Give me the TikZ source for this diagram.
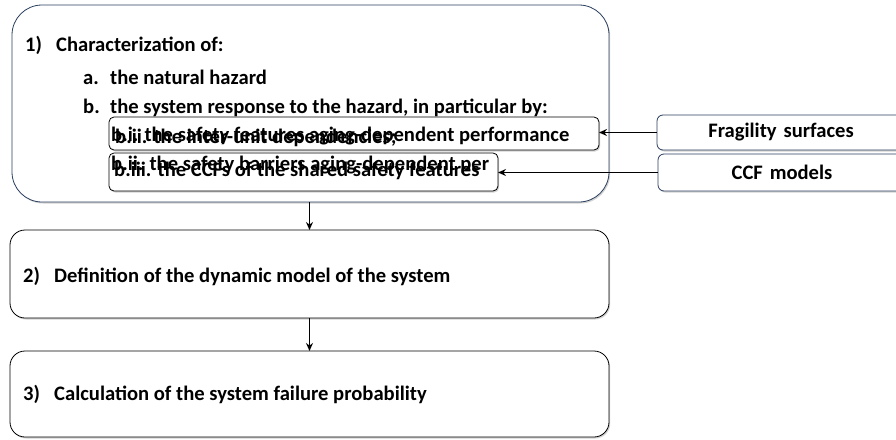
\documentclass[tikz,border=0pt]{standalone}
\usepackage{fontspec}
\setmainfont{Carlito}
\usetikzlibrary{shadows,arrows.meta}
\definecolor{navy}{HTML}{2B3F5F}
\tikzset{
  box/.style={draw=black, line width=0.8pt, fill=white, inner sep=0pt, outer sep=0pt,
    drop shadow={shadow xshift=1.2pt, shadow yshift=-1.5pt, fill=black!35}},
  bigbox/.style={box, draw=navy, rounded corners=30pt},
  stepbox/.style={box, rounded corners=15pt},
  subbox/.style={box, rounded corners=5pt},
  srcbox/.style={box, draw=navy, rounded corners=6pt, font=\bfseries\fontsize{20.6}{24}\selectfont},
  txt/.style={anchor=base west, inner sep=0pt, font=\bfseries\fontsize{20.6}{24}\selectfont},
  arr/.style={-{Stealth[length=8pt,width=7pt]}, line width=1.8pt, black},
}
\begin{document}
\begin{tikzpicture}[x=1pt,y=-1pt]
\useasboundingbox (0,0) rectangle (896,439);
% boxes
\node[bigbox, minimum width=597pt, minimum height=197pt] (b1) at (310.5,103.5) {};
\node[stepbox, minimum width=599pt, minimum height=88pt] (b2) at (309.5,274) {};
\node[stepbox, minimum width=599pt, minimum height=86pt] (b3) at (309.5,394) {};
\node[subbox, minimum width=490pt, minimum height=33pt] (bi) at (354,133.5) {};
\node[subbox, minimum width=389pt, minimum height=38pt] (bii) at (303.5,172) {};
\node[srcbox, minimum width=248pt, minimum height=35pt, text width=240pt, align=center] (frag) at (781,132.5) {Fragility surfaces};
\node[srcbox, minimum width=248pt, minimum height=37pt, text width=240pt, align=center] (ccf) at (782,172.5) {CCF models};
% texts in box 1
\node[txt] (t1n) at (25,51) {1)};
\node[txt] (t1) at (56,51) {Characterization of:};
\node[txt] (tan) at (83,84) {a.};
\node[txt] (ta) at (110,84) {the natural hazard};
\node[txt] (tbn) at (83,113) {b.};
\node[txt] (tb) at (110,113) {the system response to the hazard, in particular by:};
\node[txt] (tbi) at (111,141) {b.i. the safety features aging-dependent performance};
\node[txt] (tbi2) at (115,143) {b.ii. the inter-unit dependencies;};
\node[txt] (tbii) at (111,170) {b.ii. the safety barriers aging-dependent per};
\node[txt] (tbii2) at (114,176) {b.iii. the CCFs of the shared safety features};
% texts in boxes 2 and 3
\node[txt] (t2n) at (23,282) {2)};
\node[txt] (t2) at (54,282) {Definition of the dynamic model of the system};
\node[txt] (t3n) at (23,400) {3)};
\node[txt] (t3) at (54,400) {Calculation of the system failure probability};
% connectors
\draw[arr] (b1.south -| b2.north) -- (b2.north);
\draw[arr] (b2.south) -- (b3.north);
\draw[arr] (frag.west) -- (frag.west -| bi.east);
\draw[arr] (ccf.west) -- (ccf.west -| bii.east);
\end{tikzpicture}
\end{document}
